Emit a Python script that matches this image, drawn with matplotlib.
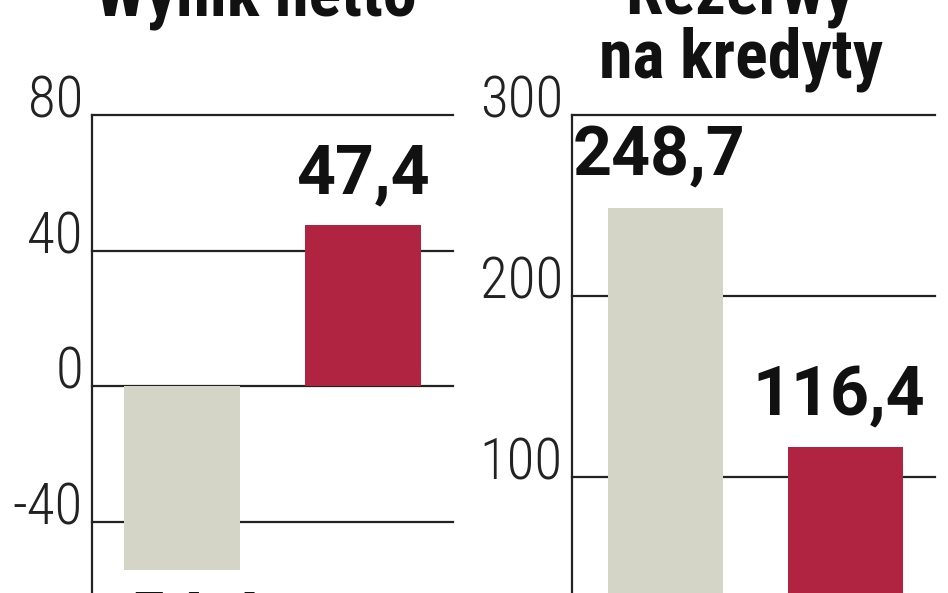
import matplotlib
matplotlib.use("Agg")
import matplotlib.pyplot as plt
from matplotlib.transforms import ScaledTranslation

# data
kategorie = ["2008", "2009"]
wynik_netto = [-54.4, 47.4]
rezerwy = [248.7, 116.4]
wynik_ticks = [80, 40, 0, -40]
rezerwy_ticks = [300, 200, 100]
kolory = ["#d4d5c7", "#b02442"]

def fmt(v):
    return ("%.1f" % v).replace(".", ",")

W, H = 948, 593
fig = plt.figure(figsize=(W / 100, H / 100), dpi=100)

tick_font = dict(family=["Roboto Condensed", "Roboto", "DejaVu Sans"], fontweight="light",
                 fontsize=41, color="#222222")
val_font = dict(family=["Roboto", "DejaVu Sans"], fontweight="bold", fontsize=49, color="#111111")
title_font = dict(family=["Roboto Condensed", "Roboto", "DejaVu Sans"], fontweight="bold", fontsize=49,
                  color="#111111", ha="center")

def panel(rect, values, ticks, ylim, xlim):
    ax = fig.add_axes(rect)
    x = list(range(len(values)))
    ax.bar(x, values, width=0.64, color=kolory, zorder=2)
    ax.set_xlim(*xlim)
    ax.set_ylim(*ylim)
    for t in ticks:
        ax.axhline(t, color="#222222", lw=1.6, zorder=1, clip_on=False)
        ax.text(-0.025, t, str(t), transform=ax.get_yaxis_transform() +
                ScaledTranslation(0, 0.13, fig.dpi_scale_trans),
                ha="right", va="center", **tick_font)
    for s in ["top", "right", "bottom"]:
        ax.spines[s].set_visible(False)
    ax.spines["left"].set_color("#222222")
    ax.spines["left"].set_linewidth(1.6)
    ax.set_xticks([])
    ax.set_yticks([])
    ax.patch.set_alpha(0)
    return ax

# left: Wynik netto
ax1 = panel([92 / W, 0, 361 / W, (593 - 115) / H], wynik_netto, wynik_ticks, (-61.1, 80), (-0.5, 1.5))
for i, v in enumerate(wynik_netto):
    if v >= 0:
        ax1.annotate(fmt(v), (i, v), xytext=(0, 18), textcoords="offset pixels",
                     ha="center", va="bottom", **val_font)
    else:
        ax1.annotate(fmt(v), (i, v), xytext=(0, -19), textcoords="offset pixels",
                     ha="center", va="top", annotation_clip=False, **val_font)

# right: Rezerwy na kredyty
ax2 = panel([572 / W, 0, 363 / W, (593 - 115) / H], rezerwy, rezerwy_ticks, (35.9, 300), (-0.52, 1.5))
for i, v in enumerate(rezerwy):
    ax2.annotate(fmt(v), (i, v), xytext=(-6, 18), textcoords="offset pixels",
                 ha="center", va="bottom", **val_font)

fig.text(256 / W, 1 - 15 / H, "Wynik netto", va="baseline", **title_font)
fig.text(740 / W, 1 - 14 / H, "Rezerwy", va="baseline", **title_font)
fig.text(741 / W, 1 - 78 / H, "na kredyty", va="baseline", **title_font)

fig.savefig("out.png", dpi=100)
